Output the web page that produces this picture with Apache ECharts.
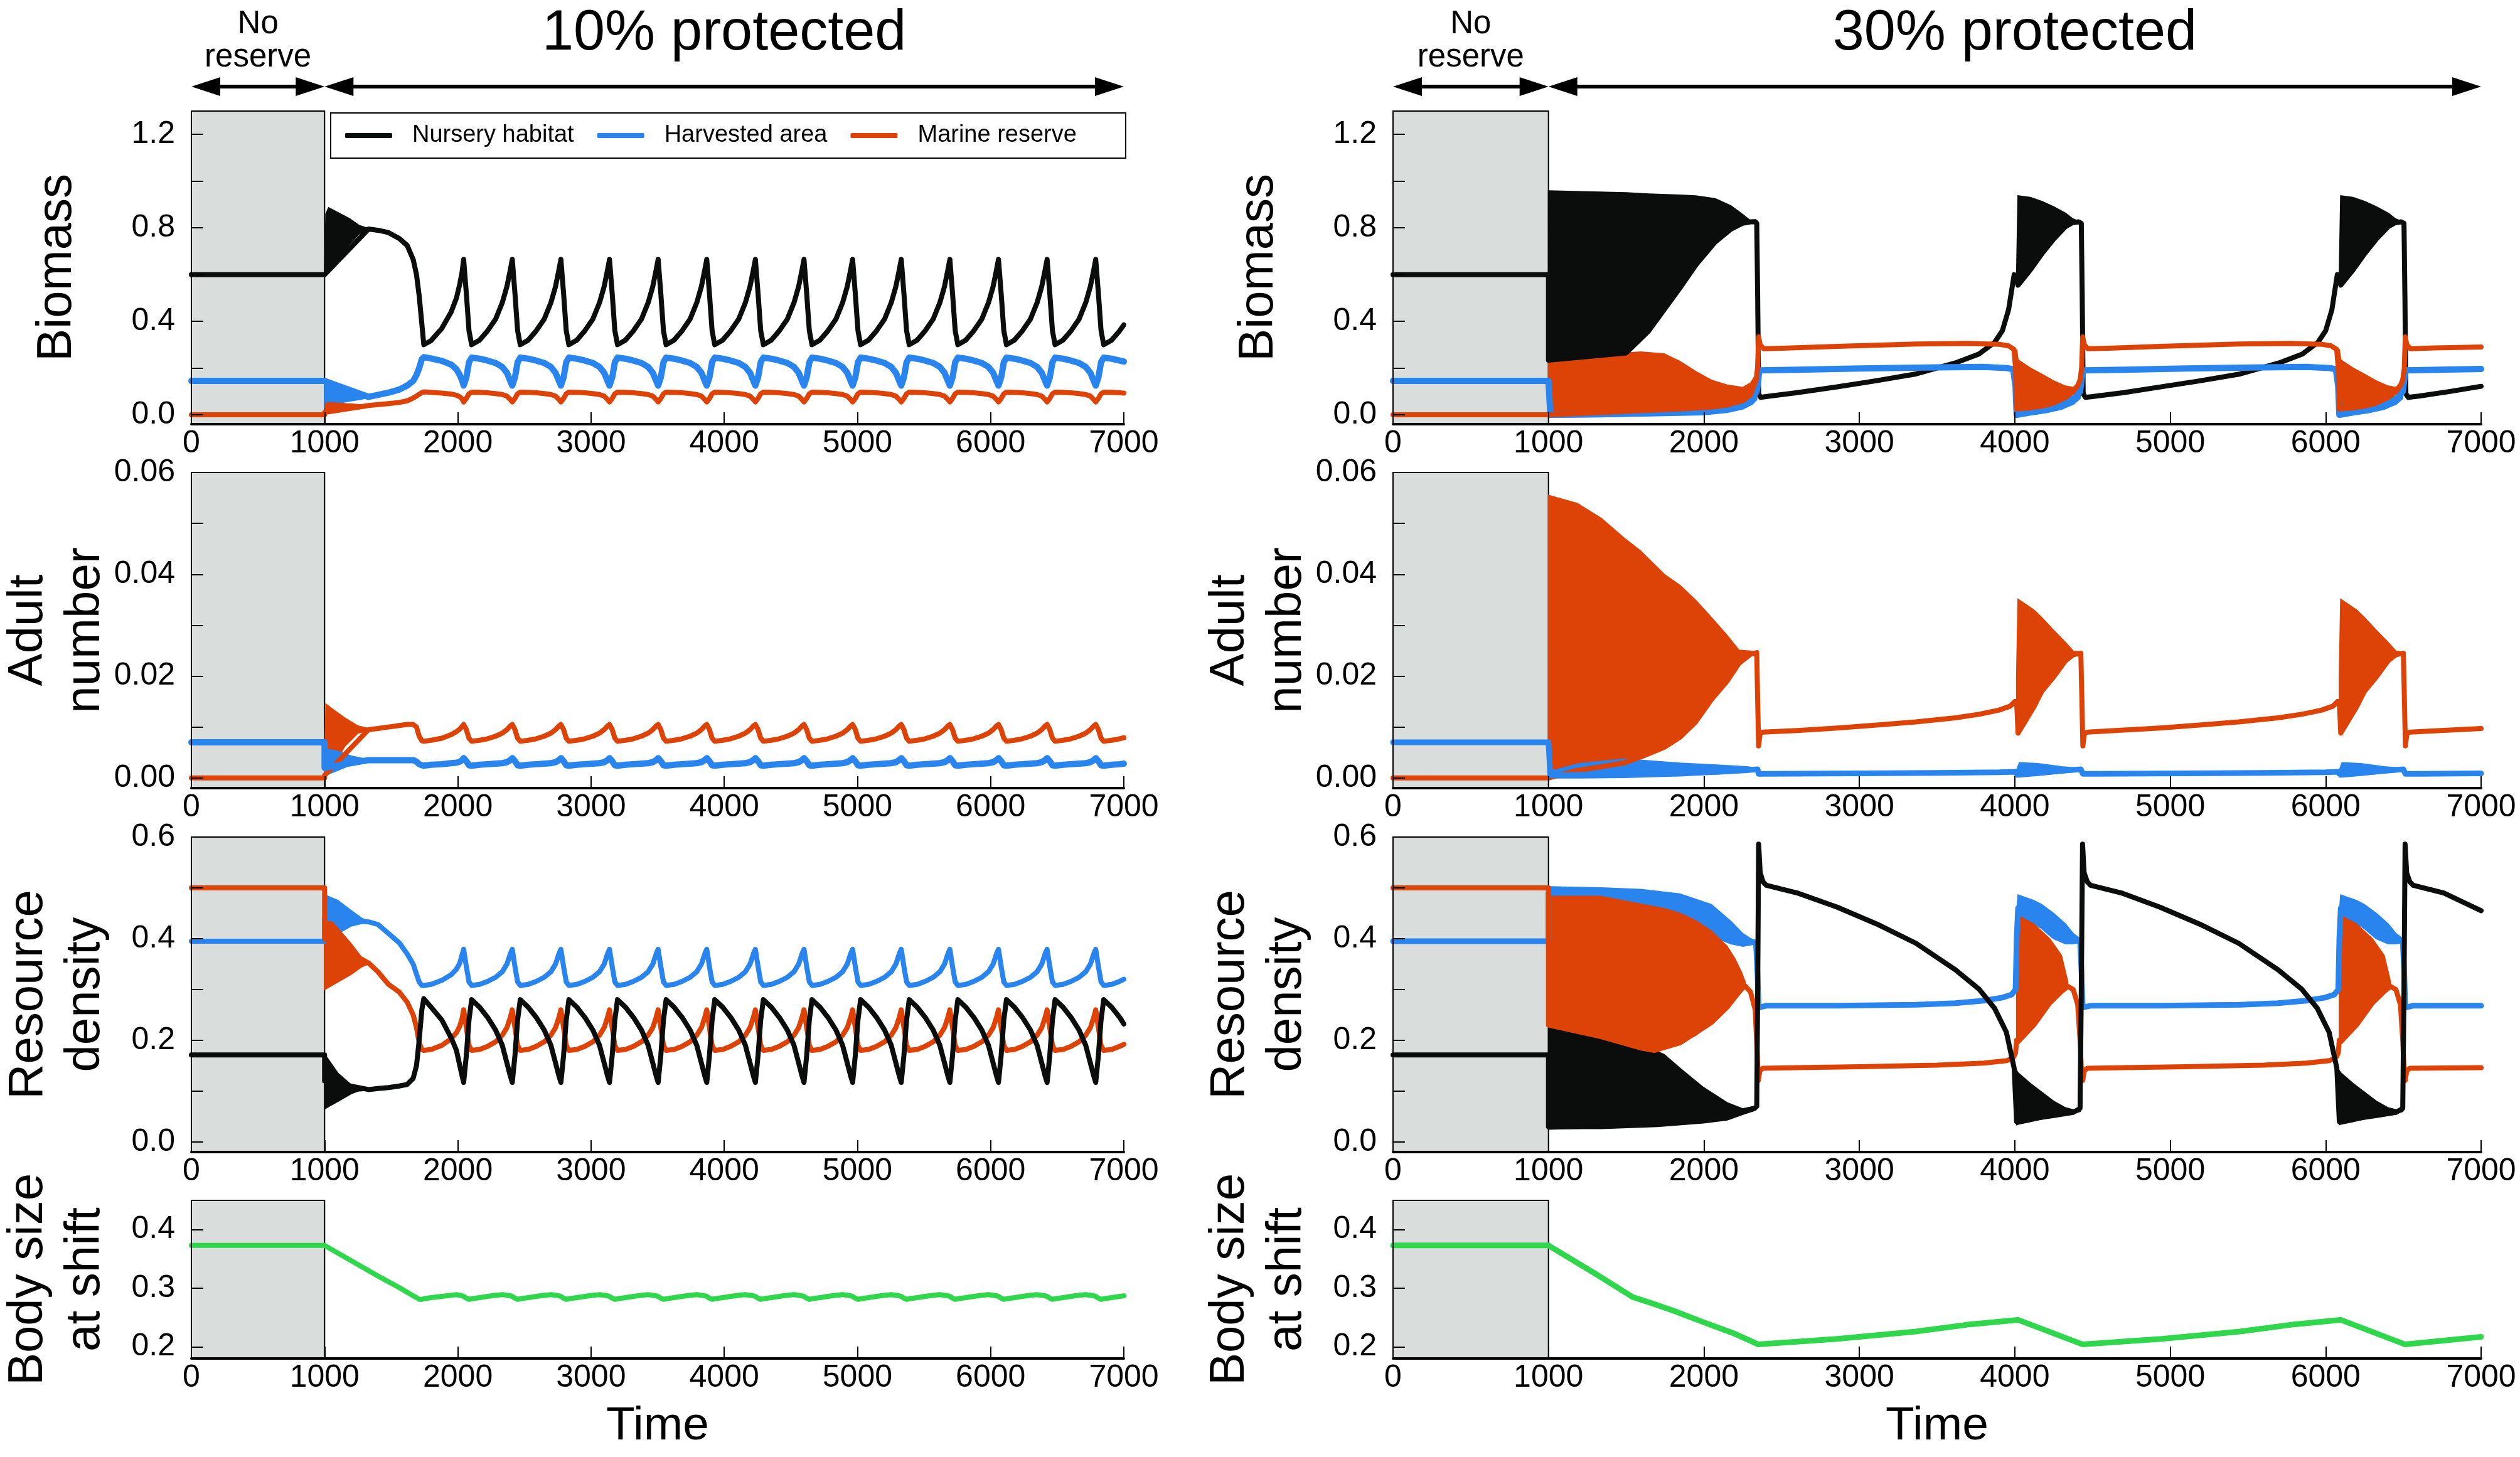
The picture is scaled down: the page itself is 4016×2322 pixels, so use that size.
<!DOCTYPE html>
<html><head><meta charset="utf-8">
<script src="https://cdn.jsdelivr.net/npm/echarts@6.0.0/dist/echarts.min.js"></script>
<style>html,body{margin:0;padding:0;background:#fff}#c{width:4016px;height:2322px}</style>
</head><body><div id="c"></div><script>
// ---------------- DATA ----------------
const legendNames = ['Nursery habitat', 'Harvested area', 'Marine reserve'];
const headerLabels = ['10% protected', '30% protected'];
const preLabel = 'No\nreserve';
const yTitles = ['Biomass', 'Adult\nnumber', 'Resource\ndensity', 'Body size\nat shift'];
const xTitle = 'Time';
const arrowSpans = [[0, 1000], [1000, 7000]];
const xTicks = {min: 0, max: 7000, interval: 1000};
const yTickSets = [
  {min: -0.04, max: 1.3, ticks: [0, 0.2, 0.4, 0.6, 0.8, 1.0, 1.2], labels: [0, 0.4, 0.8, 1.2], dec: 1},
  {min: -0.002, max: 0.06, ticks: [0, 0.01, 0.02, 0.03, 0.04, 0.05, 0.06], labels: [0, 0.02, 0.04, 0.06], dec: 2},
  {min: -0.02, max: 0.6, ticks: [0, 0.1, 0.2, 0.3, 0.4, 0.5, 0.6], labels: [0, 0.2, 0.4, 0.6], dec: 1},
  {min: 0.18, max: 0.45, ticks: [0.2, 0.3, 0.4], labels: [0.2, 0.3, 0.4], dec: 1}
];

// ---- 10% protected: shared time grid ----
const time10 = [
0,1000,1000,1330,1400,1480,1560,1620,1665,1690,1710,1730,1745,1800,1880,1950,1990,2015,2032,
2044,2064,2084,2104,2164,2224,2284,2334,2369,2394,
2409,2429,2449,2469,2529,2589,2649,2699,2734,2759,
2774,2794,2814,2834,2894,2954,3014,3064,3099,3124,
3139,3159,3179,3199,3259,3319,3379,3429,3464,3489,
3504,3524,3544,3564,3624,3684,3744,3794,3829,3854,
3869,3889,3909,3929,3989,4049,4109,4159,4194,4219,
4234,4254,4274,4294,4354,4414,4474,4524,4559,4584,
4599,4619,4639,4659,4719,4779,4839,4889,4924,4949,
4964,4984,5004,5024,5084,5144,5204,5254,5289,5314,
5329,5349,5369,5389,5449,5509,5569,5619,5654,5679,
5694,5714,5734,5754,5814,5874,5934,5984,6019,6044,
6059,6079,6099,6119,6179,6239,6299,6349,6384,6409,
6424,6444,6464,6484,6544,6604,6664,6714,6749,6774,
6789,6809,6829,6849,6909,6969,7000];

const bioNursery10 = [
0.6,0.6,0.6,0.795,0.79,0.78,0.755,0.725,0.665,0.60,0.51,0.39,0.30,0.318,0.37,0.44,0.50,0.56,0.61,
0.665,0.52,0.36,0.30,0.32,0.36,0.41,0.48,0.55,0.62,
0.665,0.52,0.36,0.30,0.32,0.36,0.41,0.48,0.55,0.62,
0.665,0.52,0.36,0.30,0.32,0.36,0.41,0.48,0.55,0.62,
0.665,0.52,0.36,0.30,0.32,0.36,0.41,0.48,0.55,0.62,
0.665,0.52,0.36,0.30,0.32,0.36,0.41,0.48,0.55,0.62,
0.665,0.52,0.36,0.30,0.32,0.36,0.41,0.48,0.55,0.62,
0.665,0.52,0.36,0.30,0.32,0.36,0.41,0.48,0.55,0.62,
0.665,0.52,0.36,0.30,0.32,0.36,0.41,0.48,0.55,0.62,
0.665,0.52,0.36,0.30,0.32,0.36,0.41,0.48,0.55,0.62,
0.665,0.52,0.36,0.30,0.32,0.36,0.41,0.48,0.55,0.62,
0.665,0.52,0.36,0.30,0.32,0.36,0.41,0.48,0.55,0.62,
0.665,0.52,0.36,0.30,0.32,0.36,0.41,0.48,0.55,0.62,
0.665,0.52,0.36,0.30,0.32,0.36,0.41,0.48,0.55,0.62,
0.665,0.52,0.36,0.30,0.32,0.36,0.385];
const bioHarvest10 = [
0.145,0.145,0.145,0.077,0.085,0.095,0.108,0.125,0.145,0.17,0.2,0.238,0.247,0.241,0.231,0.215,0.195,0.17,0.148,
0.125,0.16,0.225,0.245,0.24,0.232,0.222,0.205,0.18,0.145,
0.125,0.16,0.225,0.245,0.24,0.232,0.222,0.205,0.18,0.145,
0.125,0.16,0.225,0.245,0.24,0.232,0.222,0.205,0.18,0.145,
0.125,0.16,0.225,0.245,0.24,0.232,0.222,0.205,0.18,0.145,
0.125,0.16,0.225,0.245,0.24,0.232,0.222,0.205,0.18,0.145,
0.125,0.16,0.225,0.245,0.24,0.232,0.222,0.205,0.18,0.145,
0.125,0.16,0.225,0.245,0.24,0.232,0.222,0.205,0.18,0.145,
0.125,0.16,0.225,0.245,0.24,0.232,0.222,0.205,0.18,0.145,
0.125,0.16,0.225,0.245,0.24,0.232,0.222,0.205,0.18,0.145,
0.125,0.16,0.225,0.245,0.24,0.232,0.222,0.205,0.18,0.145,
0.125,0.16,0.225,0.245,0.24,0.232,0.222,0.205,0.18,0.145,
0.125,0.16,0.225,0.245,0.24,0.232,0.222,0.205,0.18,0.145,
0.125,0.16,0.225,0.245,0.24,0.232,0.222,0.205,0.18,0.145,
0.125,0.16,0.225,0.245,0.24,0.232,0.228];
const bioReserve10 = [
0,0,0.01,0.04,0.044,0.048,0.053,0.06,0.072,0.08,0.088,0.095,0.098,0.096,0.093,0.089,0.084,0.077,0.068,
0.055,0.07,0.09,0.097,0.096,0.094,0.091,0.087,0.08,0.066,
0.055,0.07,0.09,0.097,0.096,0.094,0.091,0.087,0.08,0.066,
0.055,0.07,0.09,0.097,0.096,0.094,0.091,0.087,0.08,0.066,
0.055,0.07,0.09,0.097,0.096,0.094,0.091,0.087,0.08,0.066,
0.055,0.07,0.09,0.097,0.096,0.094,0.091,0.087,0.08,0.066,
0.055,0.07,0.09,0.097,0.096,0.094,0.091,0.087,0.08,0.066,
0.055,0.07,0.09,0.097,0.096,0.094,0.091,0.087,0.08,0.066,
0.055,0.07,0.09,0.097,0.096,0.094,0.091,0.087,0.08,0.066,
0.055,0.07,0.09,0.097,0.096,0.094,0.091,0.087,0.08,0.066,
0.055,0.07,0.09,0.097,0.096,0.094,0.091,0.087,0.08,0.066,
0.055,0.07,0.09,0.097,0.096,0.094,0.091,0.087,0.08,0.066,
0.055,0.07,0.09,0.097,0.096,0.094,0.091,0.087,0.08,0.066,
0.055,0.07,0.09,0.097,0.096,0.094,0.091,0.087,0.08,0.066,
0.055,0.07,0.09,0.097,0.096,0.094,0.093];
const adultReserve10 = [
0,0,0.0005,0.0095,0.0097,0.01,0.0103,0.0105,0.0105,0.01,0.0082,0.0073,0.0072,0.0074,0.0078,0.0085,0.0091,0.0096,0.0101,
0.0105,0.0095,0.0078,0.0072,0.0074,0.0077,0.0082,0.0088,0.0095,0.0102,
0.0105,0.0095,0.0078,0.0072,0.0074,0.0077,0.0082,0.0088,0.0095,0.0102,
0.0105,0.0095,0.0078,0.0072,0.0074,0.0077,0.0082,0.0088,0.0095,0.0102,
0.0105,0.0095,0.0078,0.0072,0.0074,0.0077,0.0082,0.0088,0.0095,0.0102,
0.0105,0.0095,0.0078,0.0072,0.0074,0.0077,0.0082,0.0088,0.0095,0.0102,
0.0105,0.0095,0.0078,0.0072,0.0074,0.0077,0.0082,0.0088,0.0095,0.0102,
0.0105,0.0095,0.0078,0.0072,0.0074,0.0077,0.0082,0.0088,0.0095,0.0102,
0.0105,0.0095,0.0078,0.0072,0.0074,0.0077,0.0082,0.0088,0.0095,0.0102,
0.0105,0.0095,0.0078,0.0072,0.0074,0.0077,0.0082,0.0088,0.0095,0.0102,
0.0105,0.0095,0.0078,0.0072,0.0074,0.0077,0.0082,0.0088,0.0095,0.0102,
0.0105,0.0095,0.0078,0.0072,0.0074,0.0077,0.0082,0.0088,0.0095,0.0102,
0.0105,0.0095,0.0078,0.0072,0.0074,0.0077,0.0082,0.0088,0.0095,0.0102,
0.0105,0.0095,0.0078,0.0072,0.0074,0.0077,0.0082,0.0088,0.0095,0.0102,
0.0105,0.0095,0.0078,0.0072,0.0074,0.0077,0.0079];
const adultHarvest10 = [
0.007,0.007,0.002,0.0035,0.0035,0.0035,0.0035,0.0035,0.0035,0.0032,0.0027,0.0025,0.0024,0.0026,0.0027,0.0029,0.003,0.0032,0.0035,
0.0039,0.0033,0.0025,0.0024,0.0026,0.0027,0.0028,0.0029,0.0031,0.0035,
0.0039,0.0033,0.0025,0.0024,0.0026,0.0027,0.0028,0.0029,0.0031,0.0035,
0.0039,0.0033,0.0025,0.0024,0.0026,0.0027,0.0028,0.0029,0.0031,0.0035,
0.0039,0.0033,0.0025,0.0024,0.0026,0.0027,0.0028,0.0029,0.0031,0.0035,
0.0039,0.0033,0.0025,0.0024,0.0026,0.0027,0.0028,0.0029,0.0031,0.0035,
0.0039,0.0033,0.0025,0.0024,0.0026,0.0027,0.0028,0.0029,0.0031,0.0035,
0.0039,0.0033,0.0025,0.0024,0.0026,0.0027,0.0028,0.0029,0.0031,0.0035,
0.0039,0.0033,0.0025,0.0024,0.0026,0.0027,0.0028,0.0029,0.0031,0.0035,
0.0039,0.0033,0.0025,0.0024,0.0026,0.0027,0.0028,0.0029,0.0031,0.0035,
0.0039,0.0033,0.0025,0.0024,0.0026,0.0027,0.0028,0.0029,0.0031,0.0035,
0.0039,0.0033,0.0025,0.0024,0.0026,0.0027,0.0028,0.0029,0.0031,0.0035,
0.0039,0.0033,0.0025,0.0024,0.0026,0.0027,0.0028,0.0029,0.0031,0.0035,
0.0039,0.0033,0.0025,0.0024,0.0026,0.0027,0.0028,0.0029,0.0031,0.0035,
0.0039,0.0033,0.0025,0.0024,0.0026,0.0027,0.0028];
const resHarvest10 = [
0.395,0.395,0.44,0.433,0.428,0.41,0.392,0.37,0.35,0.33,0.315,0.308,0.308,0.31,0.318,0.329,0.34,0.352,0.368,
0.379,0.345,0.315,0.308,0.31,0.316,0.324,0.335,0.35,0.37,
0.379,0.345,0.315,0.308,0.31,0.316,0.324,0.335,0.35,0.37,
0.379,0.345,0.315,0.308,0.31,0.316,0.324,0.335,0.35,0.37,
0.379,0.345,0.315,0.308,0.31,0.316,0.324,0.335,0.35,0.37,
0.379,0.345,0.315,0.308,0.31,0.316,0.324,0.335,0.35,0.37,
0.379,0.345,0.315,0.308,0.31,0.316,0.324,0.335,0.35,0.37,
0.379,0.345,0.315,0.308,0.31,0.316,0.324,0.335,0.35,0.37,
0.379,0.345,0.315,0.308,0.31,0.316,0.324,0.335,0.35,0.37,
0.379,0.345,0.315,0.308,0.31,0.316,0.324,0.335,0.35,0.37,
0.379,0.345,0.315,0.308,0.31,0.316,0.324,0.335,0.35,0.37,
0.379,0.345,0.315,0.308,0.31,0.316,0.324,0.335,0.35,0.37,
0.379,0.345,0.315,0.308,0.31,0.316,0.324,0.335,0.35,0.37,
0.379,0.345,0.315,0.308,0.31,0.316,0.324,0.335,0.35,0.37,
0.379,0.345,0.315,0.308,0.31,0.316,0.32];
const resReserve10 = [
0.5,0.5,0.40,0.352,0.335,0.31,0.295,0.275,0.25,0.225,0.195,0.182,0.18,0.182,0.19,0.203,0.215,0.228,0.243,
0.26,0.225,0.19,0.18,0.182,0.188,0.197,0.21,0.225,0.245,
0.26,0.225,0.19,0.18,0.182,0.188,0.197,0.21,0.225,0.245,
0.26,0.225,0.19,0.18,0.182,0.188,0.197,0.21,0.225,0.245,
0.26,0.225,0.19,0.18,0.182,0.188,0.197,0.21,0.225,0.245,
0.26,0.225,0.19,0.18,0.182,0.188,0.197,0.21,0.225,0.245,
0.26,0.225,0.19,0.18,0.182,0.188,0.197,0.21,0.225,0.245,
0.26,0.225,0.19,0.18,0.182,0.188,0.197,0.21,0.225,0.245,
0.26,0.225,0.19,0.18,0.182,0.188,0.197,0.21,0.225,0.245,
0.26,0.225,0.19,0.18,0.182,0.188,0.197,0.21,0.225,0.245,
0.26,0.225,0.19,0.18,0.182,0.188,0.197,0.21,0.225,0.245,
0.26,0.225,0.19,0.18,0.182,0.188,0.197,0.21,0.225,0.245,
0.26,0.225,0.19,0.18,0.182,0.188,0.197,0.21,0.225,0.245,
0.26,0.225,0.19,0.18,0.182,0.188,0.197,0.21,0.225,0.245,
0.26,0.225,0.19,0.18,0.182,0.188,0.192];
const resNursery10 = [
0.171,0.171,0.12,0.103,0.105,0.107,0.11,0.113,0.125,0.15,0.2,0.26,0.282,0.265,0.24,0.205,0.18,0.15,0.13,
0.117,0.17,0.24,0.28,0.265,0.245,0.22,0.19,0.155,0.13,
0.117,0.17,0.24,0.28,0.265,0.245,0.22,0.19,0.155,0.13,
0.117,0.17,0.24,0.28,0.265,0.245,0.22,0.19,0.155,0.13,
0.117,0.17,0.24,0.28,0.265,0.245,0.22,0.19,0.155,0.13,
0.117,0.17,0.24,0.28,0.265,0.245,0.22,0.19,0.155,0.13,
0.117,0.17,0.24,0.28,0.265,0.245,0.22,0.19,0.155,0.13,
0.117,0.17,0.24,0.28,0.265,0.245,0.22,0.19,0.155,0.13,
0.117,0.17,0.24,0.28,0.265,0.245,0.22,0.19,0.155,0.13,
0.117,0.17,0.24,0.28,0.265,0.245,0.22,0.19,0.155,0.13,
0.117,0.17,0.24,0.28,0.265,0.245,0.22,0.19,0.155,0.13,
0.117,0.17,0.24,0.28,0.265,0.245,0.22,0.19,0.155,0.13,
0.117,0.17,0.24,0.28,0.265,0.245,0.22,0.19,0.155,0.13,
0.117,0.17,0.24,0.28,0.265,0.245,0.22,0.19,0.155,0.13,
0.117,0.17,0.24,0.28,0.265,0.245,0.232];
const body10 = [
0.373,0.373,0.373,0.330,0.321,0.311,0.301,0.293,0.287,0.284,0.281,0.281,0.282,0.284,0.286,0.288,0.289,0.288,0.287,
0.286,0.283,0.281,0.282,0.284,0.286,0.288,0.289,0.288,0.287,
0.286,0.283,0.281,0.282,0.284,0.286,0.288,0.289,0.288,0.287,
0.286,0.283,0.281,0.282,0.284,0.286,0.288,0.289,0.288,0.287,
0.286,0.283,0.281,0.282,0.284,0.286,0.288,0.289,0.288,0.287,
0.286,0.283,0.281,0.282,0.284,0.286,0.288,0.289,0.288,0.287,
0.286,0.283,0.281,0.282,0.284,0.286,0.288,0.289,0.288,0.287,
0.286,0.283,0.281,0.282,0.284,0.286,0.288,0.289,0.288,0.287,
0.286,0.283,0.281,0.282,0.284,0.286,0.288,0.289,0.288,0.287,
0.286,0.283,0.281,0.282,0.284,0.286,0.288,0.289,0.288,0.287,
0.286,0.283,0.281,0.282,0.284,0.286,0.288,0.289,0.288,0.287,
0.286,0.283,0.281,0.282,0.284,0.286,0.288,0.289,0.288,0.287,
0.286,0.283,0.281,0.282,0.284,0.286,0.288,0.289,0.288,0.287,
0.286,0.283,0.281,0.282,0.284,0.286,0.288,0.289,0.288,0.287,
0.286,0.283,0.281,0.282,0.284,0.286,0.287];

// high-frequency oscillation envelopes [time, low, high] (10%)
const bandBioNursery10 = [[1000,0.60,0.60],[1010,0.61,0.86],[1030,0.625,0.886],[1100,0.67,0.865],[1187,0.73,0.839],[1260,0.775,0.81],[1330,0.792,0.797]];
const bandBioHarvest10 = [[1000,0.03,0.145],[1050,0.04,0.14],[1150,0.055,0.11],[1250,0.065,0.085],[1330,0.073,0.077]];
const bandBioReserve10 = [[1000,0,0],[1010,0.005,0.05],[1050,0.01,0.052],[1150,0.02,0.048],[1250,0.032,0.044],[1330,0.039,0.041]];
const bandAdultReserve10 = [[1000,0,0],[1010,0.0005,0.0145],[1060,0.002,0.0135],[1150,0.0062,0.0118],[1250,0.0088,0.0102],[1330,0.0093,0.0097]];
const bandAdultHarvest10 = [[1000,0.0005,0.002],[1030,0.0008,0.0056],[1100,0.0015,0.0052],[1200,0.0026,0.0043],[1330,0.0033,0.0036]];
const bandResHarvest10 = [[1000,0.395,0.48],[1010,0.40,0.485],[1100,0.41,0.475],[1200,0.425,0.455],[1280,0.43,0.44],[1330,0.432,0.434]];
const bandResReserve10 = [[1000,0.30,0.45],[1100,0.315,0.42],[1200,0.33,0.39],[1280,0.345,0.362],[1330,0.35,0.355]];
const bandResNursery10 = [[1000,0.065,0.171],[1020,0.068,0.165],[1100,0.08,0.135],[1200,0.095,0.112],[1250,0.1,0.106],[1330,0.102,0.104]];

// ---- 30% protected: [time, value] ----
const bioNursery30 = [[0,0.6],[1000,0.6],[1000,0.234],[1500,0.265],[1643,0.358],[1846,0.543],[1947,0.64],[2073,0.74],[2174,0.795],[2250,0.82],[2300,0.826],[2330,0.827],[2340,0.82],[2346,0.5],[2352,0.09],[2365,0.075],[2400,0.078],[2600,0.095],[2858,0.12],[3100,0.145],[3364,0.175],[3617,0.222],[3769,0.26],[3870,0.31],[3920,0.36],[3960,0.45],[3996,0.6],[4012,0.58],[4021,0.555],[4100,0.62],[4175,0.69],[4250,0.752],[4326,0.805],[4370,0.822],[4410,0.826],[4428,0.82],[4434,0.5],[4440,0.09],[4455,0.075],[4500,0.078],[4700,0.095],[4944,0.12],[5186,0.145],[5450,0.175],[5700,0.222],[5850,0.26],[5950,0.31],[6000,0.36],[6040,0.45],[6075,0.6],[6088,0.58],[6097,0.555],[6176,0.62],[6251,0.69],[6326,0.752],[6402,0.805],[6446,0.822],[6486,0.826],[6504,0.82],[6510,0.5],[6516,0.09],[6531,0.075],[6600,0.08],[6800,0.1],[7000,0.122]];
const bioHarvest30 = [[0,0.145],[1000,0.145],[1012,0.0],[1339,0.002],[1700,0.008],[1997,0.015],[2149,0.027],[2250,0.045],[2310,0.07],[2340,0.1],[2350,0.15],[2356,0.19],[2600,0.193],[3000,0.198],[3500,0.203],[3800,0.205],[3950,0.2],[3990,0.195],[4005,0.12],[4012,0.0],[4100,0.01],[4200,0.02],[4300,0.035],[4376,0.06],[4420,0.1],[4430,0.15],[4437,0.19],[4700,0.193],[5100,0.198],[5600,0.203],[5876,0.205],[6026,0.2],[6066,0.195],[6081,0.12],[6088,0.0],[6176,0.01],[6276,0.02],[6376,0.035],[6452,0.06],[6496,0.1],[6506,0.15],[6512,0.19],[7000,0.196]];
const bioReserve30 = [[0,0],[1000,0],[1339,0.01],[1592,0.018],[1846,0.025],[2048,0.033],[2149,0.042],[2250,0.06],[2300,0.086],[2336,0.15],[2345,0.2],[2352,0.333],[2362,0.30],[2385,0.283],[2500,0.285],[2858,0.293],[3364,0.303],[3700,0.306],[3900,0.302],[3960,0.295],[3995,0.28],[4005,0.2],[4012,0.025],[4100,0.03],[4175,0.037],[4250,0.05],[4326,0.074],[4376,0.099],[4405,0.125],[4420,0.15],[4430,0.2],[4437,0.333],[4447,0.30],[4470,0.283],[4600,0.285],[4934,0.293],[5440,0.303],[5776,0.306],[5976,0.302],[6036,0.295],[6071,0.28],[6081,0.2],[6088,0.025],[6176,0.03],[6251,0.037],[6326,0.05],[6402,0.074],[6452,0.099],[6481,0.125],[6496,0.15],[6506,0.2],[6512,0.333],[6522,0.30],[6545,0.283],[6700,0.286],[7000,0.29]];
const bandBioNursery30 = [
 [[1000,0.234,0.958],[1500,0.265,0.95],[1643,0.358,0.945],[1846,0.543,0.94],[1947,0.64,0.937],[2073,0.74,0.925],[2174,0.795,0.894],[2250,0.82,0.857],[2300,0.826,0.83],[2330,0.827,0.828]],
 [[4012,0.55,0.6],[4021,0.555,0.937],[4100,0.62,0.93],[4175,0.69,0.913],[4250,0.752,0.89],[4326,0.805,0.863],[4370,0.822,0.84],[4410,0.826,0.828]],
 [[6088,0.55,0.6],[6097,0.555,0.937],[6176,0.62,0.93],[6251,0.69,0.913],[6326,0.752,0.89],[6402,0.805,0.863],[6446,0.822,0.84],[6486,0.826,0.828]]];
const bandBioHarvest30 = [
 [[1000,-0.01,0.01],[1339,-0.008,0.012],[1700,-0.004,0.02],[1997,0.0,0.031],[2149,0.01,0.045],[2250,0.025,0.068],[2310,0.045,0.1],[2340,0.065,0.135]],
 [[4012,-0.005,0.05],[4100,0.0,0.05],[4200,0.01,0.055],[4300,0.025,0.065],[4376,0.045,0.08],[4420,0.07,0.12]],
 [[6088,-0.005,0.05],[6176,0.0,0.05],[6276,0.01,0.055],[6376,0.025,0.065],[6452,0.045,0.08],[6496,0.07,0.12]]];
const bandBioReserve30 = [
 [[1000,0.0,0.234],[1339,0.01,0.257],[1592,0.018,0.269],[1744,0.022,0.261],[1846,0.025,0.228],[1947,0.029,0.185],[2048,0.033,0.148],[2149,0.042,0.127],[2250,0.06,0.117],[2300,0.086,0.136],[2336,0.14,0.173]],
 [[4012,0.02,0.28],[4021,0.025,0.235],[4100,0.03,0.2],[4175,0.037,0.173],[4250,0.05,0.145],[4326,0.074,0.123],[4376,0.099,0.117],[4405,0.12,0.135]],
 [[6088,0.02,0.28],[6097,0.025,0.235],[6176,0.03,0.2],[6251,0.037,0.173],[6326,0.05,0.145],[6402,0.074,0.123],[6452,0.099,0.117],[6481,0.12,0.135]]];

const adultReserve30 = [[0,0],[1000,0],[1186,0.0015],[1339,0.0022],[1491,0.003],[1592,0.0041],[1744,0.006],[1846,0.008],[1947,0.011],[2048,0.0154],[2149,0.019],[2225,0.0225],[2300,0.0243],[2340,0.0246],[2346,0.015],[2352,0.0063],[2362,0.0088],[2380,0.009],[2600,0.0093],[2858,0.0098],[3111,0.0104],[3364,0.011],[3617,0.0118],[3769,0.0125],[3896,0.0133],[3971,0.0141],[4000,0.015],[4012,0.015],[4021,0.0088],[4122,0.0139],[4173,0.017],[4249,0.0198],[4326,0.023],[4376,0.0242],[4425,0.0245],[4432,0.015],[4438,0.0063],[4448,0.0088],[4470,0.009],[4700,0.0094],[4934,0.0098],[5187,0.0104],[5440,0.011],[5693,0.0118],[5845,0.0125],[5972,0.0133],[6047,0.0141],[6076,0.015],[6088,0.015],[6097,0.0088],[6198,0.0139],[6249,0.017],[6325,0.0198],[6402,0.023],[6452,0.0242],[6500,0.0245],[6507,0.015],[6513,0.0063],[6523,0.0088],[6545,0.009],[6800,0.0094],[7000,0.0097]];
const adultHarvest30 = [[0,0.007],[1000,0.007],[1012,0.0005],[1491,0.0008],[1846,0.001],[2100,0.0012],[2276,0.0015],[2345,0.0017],[2352,0.0008],[2400,0.0008],[3000,0.0009],[3500,0.001],[3900,0.0011],[4005,0.0012],[4012,0.0008],[4150,0.001],[4300,0.0014],[4425,0.0017],[4438,0.0008],[4500,0.0008],[5100,0.0009],[5600,0.001],[6000,0.0011],[6081,0.0012],[6088,0.0008],[6226,0.001],[6376,0.0014],[6500,0.0017],[6513,0.0008],[6600,0.0008],[7000,0.0009]];
const bandAdultReserve30 = [
 [[1000,0.001,0.0555],[1186,0.0015,0.0539],[1339,0.0022,0.051],[1491,0.003,0.047],[1592,0.0041,0.0446],[1744,0.006,0.040],[1846,0.008,0.0378],[1947,0.011,0.0349],[2048,0.0154,0.0315],[2149,0.019,0.028],[2225,0.0225,0.0251],[2300,0.0242,0.0249],[2340,0.0244,0.0246]],
 [[4012,0.014,0.02],[4021,0.0088,0.0351],[4122,0.0139,0.033],[4173,0.017,0.0315],[4249,0.0198,0.029],[4326,0.023,0.0266],[4376,0.0242,0.0249],[4420,0.0244,0.0247]],
 [[6088,0.014,0.02],[6097,0.0088,0.0351],[6198,0.0139,0.033],[6249,0.017,0.0315],[6325,0.0198,0.029],[6402,0.023,0.0266],[6452,0.0242,0.0249],[6496,0.0244,0.0247]]];
const bandAdultHarvest30 = [
 [[1000,0.0,0.0012],[1200,0.0,0.0028],[1491,0.0001,0.0037],[1846,0.0004,0.0029],[2100,0.0008,0.0025],[2276,0.0012,0.0022],[2345,0.0015,0.0019]],
 [[4012,0.0002,0.0015],[4030,0.0002,0.003],[4150,0.0005,0.0028],[4300,0.001,0.0022],[4420,0.0014,0.0019]],
 [[6088,0.0002,0.0015],[6106,0.0002,0.003],[6226,0.0005,0.0028],[6376,0.001,0.0022],[6496,0.0014,0.0019]]];

const resNursery30 = [[0,0.171],[1000,0.171],[1000,0.03],[1339,0.03],[1700,0.034],[1997,0.041],[2149,0.047],[2250,0.058],[2326,0.066],[2340,0.07],[2346,0.3],[2352,0.586],[2362,0.53],[2380,0.512],[2402,0.505],[2600,0.49],[2858,0.462],[3111,0.429],[3364,0.391],[3617,0.339],[3769,0.301],[3870,0.263],[3946,0.216],[3996,0.145],[4012,0.04],[4100,0.045],[4250,0.052],[4376,0.058],[4420,0.066],[4428,0.3],[4436,0.586],[4446,0.53],[4466,0.512],[4488,0.505],[4686,0.49],[4934,0.462],[5187,0.429],[5440,0.391],[5693,0.339],[5845,0.301],[5946,0.263],[6022,0.216],[6072,0.145],[6088,0.04],[6176,0.045],[6326,0.052],[6452,0.058],[6496,0.066],[6504,0.3],[6511,0.586],[6521,0.53],[6541,0.512],[6563,0.505],[6760,0.49],[7000,0.455]];
const resReserve30 = [[0,0.5],[1000,0.5],[1000,0.23],[1339,0.207],[1592,0.185],[1680,0.18],[1846,0.195],[2048,0.235],[2149,0.265],[2200,0.285],[2240,0.3],[2265,0.307],[2300,0.295],[2330,0.26],[2342,0.18],[2350,0.121],[2360,0.14],[2380,0.145],[2600,0.146],[3000,0.148],[3500,0.151],[3800,0.155],[3950,0.16],[3990,0.166],[4005,0.175],[4012,0.2],[4021,0.197],[4122,0.23],[4224,0.273],[4300,0.296],[4341,0.306],[4376,0.3],[4405,0.27],[4420,0.2],[4430,0.13],[4437,0.121],[4447,0.14],[4467,0.145],[4700,0.146],[5100,0.148],[5600,0.151],[5876,0.155],[6026,0.16],[6066,0.166],[6081,0.175],[6088,0.2],[6097,0.197],[6198,0.23],[6300,0.273],[6376,0.296],[6417,0.306],[6452,0.3],[6481,0.27],[6496,0.2],[6506,0.13],[6512,0.121],[6522,0.14],[6542,0.145],[7000,0.146]];
const resHarvest30 = [[0,0.395],[1000,0.395],[1000,0.49],[1339,0.49],[1846,0.46],[2048,0.44],[2174,0.41],[2250,0.398],[2300,0.395],[2335,0.392],[2345,0.33],[2352,0.265],[2362,0.265],[2400,0.268],[2858,0.268],[3364,0.27],[3617,0.273],[3800,0.278],[3920,0.284],[3980,0.29],[4005,0.3],[4012,0.4],[4021,0.46],[4173,0.44],[4300,0.41],[4376,0.4],[4420,0.395],[4430,0.33],[4437,0.265],[4447,0.265],[4485,0.268],[4944,0.268],[5450,0.27],[5693,0.273],[5876,0.278],[5996,0.284],[6056,0.29],[6081,0.3],[6088,0.4],[6097,0.46],[6249,0.44],[6376,0.41],[6452,0.4],[6496,0.395],[6506,0.33],[6512,0.265],[6522,0.265],[6560,0.268],[7000,0.268]];
const bandResNursery30 = [
 [[1000,0.025,0.23],[1339,0.028,0.207],[1592,0.03,0.185],[1680,0.032,0.18],[1744,0.034,0.172],[1846,0.036,0.145],[1997,0.041,0.107],[2149,0.047,0.077],[2250,0.055,0.065],[2326,0.062,0.07],[2340,0.066,0.068]],
 [[4012,0.034,0.14],[4021,0.035,0.136],[4100,0.04,0.115],[4173,0.045,0.098],[4250,0.05,0.08],[4326,0.053,0.067],[4376,0.056,0.063],[4420,0.06,0.066]],
 [[6088,0.034,0.14],[6097,0.035,0.136],[6176,0.04,0.115],[6249,0.045,0.098],[6326,0.05,0.08],[6402,0.053,0.067],[6452,0.056,0.063],[6496,0.06,0.066]]];
const bandResReserve30 = [
 [[1000,0.23,0.491],[1339,0.207,0.485],[1592,0.185,0.471],[1680,0.18,0.465],[1846,0.195,0.45],[1950,0.21,0.435],[2048,0.235,0.415],[2149,0.265,0.385],[2200,0.285,0.36],[2240,0.3,0.335],[2265,0.306,0.315]],
 [[4012,0.18,0.3],[4021,0.197,0.445],[4122,0.23,0.429],[4224,0.273,0.40],[4300,0.296,0.367],[4341,0.304,0.315]],
 [[6088,0.18,0.3],[6097,0.197,0.445],[6198,0.23,0.429],[6300,0.273,0.40],[6376,0.296,0.367],[6417,0.304,0.315]]];
const bandResHarvest30 = [
 [[1000,0.45,0.502],[1339,0.45,0.5],[1592,0.445,0.497],[1846,0.43,0.488],[2048,0.405,0.467],[2174,0.39,0.434],[2250,0.385,0.41],[2300,0.388,0.40],[2335,0.39,0.395]],
 [[4012,0.3,0.45],[4021,0.44,0.486],[4122,0.43,0.475],[4173,0.42,0.467],[4249,0.40,0.45],[4326,0.39,0.429],[4376,0.39,0.41],[4420,0.392,0.40]],
 [[6088,0.3,0.45],[6097,0.44,0.486],[6198,0.43,0.475],[6249,0.42,0.467],[6325,0.40,0.45],[6402,0.39,0.429],[6452,0.39,0.41],[6496,0.392,0.40]]];

const body30 = [[0,0.373],[1000,0.373],[1300,0.325],[1541,0.285],[1668,0.274],[1800,0.262],[1997,0.242],[2200,0.222],[2351,0.204],[2858,0.2135],[3364,0.226],[3718,0.2385],[4021,0.246],[4437,0.204],[4944,0.2135],[5450,0.226],[5804,0.2385],[6097,0.246],[6512,0.204],[7000,0.217]];

// ---------------- STYLE / LAYOUT ----------------
const C = {black: '#0b0c0c', blue: '#2985ed', orange: '#dd4307', green: '#30d64b', gray: '#d9dddc'};
const FONT = '"Liberation Sans", Arial, Helvetica, sans-serif';
const COLS = [{left: 305, width: 1486}, {left: 2220, width: 1734}];
const ROWS = [{top: 177, height: 499}, {top: 753, height: 503}, {top: 1334, height: 502}, {top: 1913, height: 252}];
const HEADER = {top: 100, height: 76};

const zip = (ts, vs) => ts.map((t, i) => [t, vs[i]]);

const grids = [], xAxes = [], yAxes = [], series = [];

function lineS(name, data, color, width, g) {
  return {type: 'line', name, data, xAxisIndex: g, yAxisIndex: g, symbol: 'none', showSymbol: false,
    animation: false, silent: true, z: 2, clip: true,
    lineStyle: {color, width, cap: 'round', join: 'round'}, itemStyle: {color}};
}
function bandS(rows, color, g) {
  return {type: 'custom', name: 'band', data: rows, xAxisIndex: g, yAxisIndex: g, clip: true,
    animation: false, silent: true, z: 2, encode: {x: 0, y: [1, 2]},
    renderItem: (params, api) => {
      if (params.dataIndex !== 0) return null;
      const up = rows.map(r => api.coord([r[0], r[2]]));
      const lo = rows.slice().reverse().map(r => api.coord([r[0], r[1]]));
      return {type: 'polygon', shape: {points: up.concat(lo)}, style: {fill: color, stroke: color, lineWidth: 2}};
    }};
}
function bandsS(segs, color, g) { return segs.map(s => bandS(s, color, g)); }

// panels
COLS.forEach((col, c) => {
  ROWS.forEach((row, r) => {
    const g = grids.length;
    grids.push({left: col.left, top: row.top, width: col.width, height: row.height, outerBoundsMode: 'none'});
    xAxes.push({gridIndex: g, type: 'value', min: xTicks.min, max: xTicks.max, interval: xTicks.interval, z: 10,
      axisLine: {show: true, onZero: false, lineStyle: {color: '#000', width: 4}},
      axisTick: {show: true, inside: true, length: 19, lineStyle: {color: '#000', width: 2}},
      axisLabel: {show: true, color: '#000', fontSize: 50, fontFamily: FONT, margin: 6, formatter: v => String(v)},
      splitLine: {show: false}});
    const Y = yTickSets[r];
    yAxes.push({gridIndex: g, type: 'value', min: Y.min, max: Y.max, z: 10,
      axisLine: {show: true, onZero: false, lineStyle: {color: '#000', width: 2}},
      axisTick: {show: true, inside: true, length: 19, customValues: Y.ticks, lineStyle: {color: '#000', width: 2}},
      axisLabel: {show: true, customValues: Y.labels, color: '#000', fontSize: 50, fontFamily: FONT, margin: 26,
        formatter: v => Number(v).toFixed(Y.dec)},
      splitLine: {show: false}});
    // gray "no reserve" period
    series.push({type: 'line', name: 'pre', data: [], xAxisIndex: g, yAxisIndex: g, z: 1, silent: true, animation: false,
      markArea: {silent: true, z: 1, itemStyle: {color: C.gray, borderColor: '#000', borderWidth: 2},
        data: [[{xAxis: arrowSpans[0][0]}, {xAxis: arrowSpans[0][1]}]]}});
  });
});
const G = (c, r) => c * 4 + r;

// ---- 10% column ----
series.push(bandS(bandBioNursery10, C.black, G(0,0)));
series.push(lineS(legendNames[0], zip(time10, bioNursery10), C.black, 8, G(0,0)));
series.push(bandS(bandBioHarvest10, C.blue, G(0,0)));
series.push(lineS(legendNames[1], zip(time10, bioHarvest10), C.blue, 10, G(0,0)));
series.push(bandS(bandBioReserve10, C.orange, G(0,0)));
series.push(lineS(legendNames[2], zip(time10, bioReserve10), C.orange, 8, G(0,0)));

series.push(bandS(bandAdultReserve10, C.orange, G(0,1)));
series.push(lineS(legendNames[2], zip(time10, adultReserve10), C.orange, 8, G(0,1)));
series.push(bandS(bandAdultHarvest10, C.blue, G(0,1)));
series.push(lineS(legendNames[1], zip(time10, adultHarvest10), C.blue, 10, G(0,1)));

series.push(bandS(bandResHarvest10, C.blue, G(0,2)));
series.push(lineS(legendNames[1], zip(time10, resHarvest10), C.blue, 8, G(0,2)));
series.push(bandS(bandResReserve10, C.orange, G(0,2)));
series.push(lineS(legendNames[2], zip(time10, resReserve10), C.orange, 8, G(0,2)));
series.push(bandS(bandResNursery10, C.black, G(0,2)));
series.push(lineS(legendNames[0], zip(time10, resNursery10), C.black, 8, G(0,2)));

series.push(lineS('Body size', zip(time10, body10), C.green, 8, G(0,3)));

// ---- 30% column ----
series.push(...bandsS(bandBioNursery30, C.black, G(1,0)));
series.push(lineS(legendNames[0], bioNursery30, C.black, 8, G(1,0)));
series.push(...bandsS(bandBioHarvest30, C.blue, G(1,0)));
series.push(lineS(legendNames[1], bioHarvest30, C.blue, 10, G(1,0)));
series.push(...bandsS(bandBioReserve30, C.orange, G(1,0)));
series.push(lineS(legendNames[2], bioReserve30, C.orange, 8, G(1,0)));

series.push(...bandsS(bandAdultReserve30, C.orange, G(1,1)));
series.push(lineS(legendNames[2], adultReserve30, C.orange, 8, G(1,1)));
series.push(...bandsS(bandAdultHarvest30, C.blue, G(1,1)));
series.push(lineS(legendNames[1], adultHarvest30, C.blue, 9, G(1,1)));

series.push(...bandsS(bandResHarvest30, C.blue, G(1,2)));
series.push(lineS(legendNames[1], resHarvest30, C.blue, 9, G(1,2)));
series.push(...bandsS(bandResReserve30, C.orange, G(1,2)));
series.push(lineS(legendNames[2], resReserve30, C.orange, 8, G(1,2)));
series.push(...bandsS(bandResNursery30, C.black, G(1,2)));
series.push(lineS(legendNames[0], resNursery30, C.black, 8, G(1,2)));

series.push(lineS('Body size', body30, C.green, 9, G(1,3)));

// ---- header arrows ----
COLS.forEach((col, c) => {
  const g = grids.length;
  grids.push({left: col.left, top: HEADER.top, width: col.width, height: HEADER.height, outerBoundsMode: 'none'});
  xAxes.push({gridIndex: g, type: 'value', min: xTicks.min, max: xTicks.max, show: false});
  yAxes.push({gridIndex: g, type: 'value', min: -1, max: 1, show: false});
  series.push({type: 'custom', name: 'arrows', data: arrowSpans, xAxisIndex: g, yAxisIndex: g, clip: false,
    silent: true, animation: false, encode: {x: [0, 1]},
    renderItem: (p, api) => {
      const a = api.coord([api.value(0), 0]), b = api.coord([api.value(1), 0]);
      const H = 46, W = 15, y = a[1];
      return {type: 'group', children: [
        {type: 'line', shape: {x1: a[0] + H - 4, y1: y, x2: b[0] - H + 4, y2: y}, style: {stroke: '#000', lineWidth: 6}},
        {type: 'polygon', shape: {points: [[a[0], y], [a[0] + H, y - W], [a[0] + H, y + W]]}, style: {fill: '#000'}},
        {type: 'polygon', shape: {points: [[b[0], y], [b[0] - H, y - W], [b[0] - H, y + W]]}, style: {fill: '#000'}}
      ]};
    }});
});

const option = {
  animation: false,
  backgroundColor: '#fff',
  textStyle: {fontFamily: FONT},
  grid: grids, xAxis: xAxes, yAxis: yAxes, series,
  legend: {
    data: legendNames, selectedMode: false, orient: 'horizontal',
    left: 527, top: 180, padding: [16, 78, 16, 23], itemGap: 37,
    itemWidth: 75, itemHeight: 8, icon: 'roundRect',
    borderColor: '#000', borderWidth: 2, backgroundColor: '#fff',
    textStyle: {fontSize: 38, fontFamily: FONT, color: '#000', padding: [0, 0, 0, 27], lineHeight: 40}
  }
};

const chart = echarts.init(document.getElementById('c'), null, {renderer: 'canvas', width: 4016, height: 2322});
chart.setOption(option);

// ---- text annotations placed from the axes' own scales ----
const graphics = [];
const txt = (x, y, text, size, extra) => Object.assign({type: 'text', x, y, silent: true,
  style: {text, font: `${size}px ${FONT}`, fill: '#000', textAlign: 'center', textVerticalAlign: 'middle',
    align: 'center', verticalAlign: 'middle', lineHeight: (extra && extra.lh) || size}}, extra && extra.el);
COLS.forEach((col, c) => {
  const hg = 8 + c;
  const p0 = chart.convertToPixel({xAxisIndex: hg}, arrowSpans[0][0]);
  const p1 = chart.convertToPixel({xAxisIndex: hg}, arrowSpans[0][1]);
  const p2 = chart.convertToPixel({xAxisIndex: hg}, arrowSpans[1][1]);
  graphics.push(txt((p0 + p1) / 2, 65, preLabel, 51, {lh: 53}));
  graphics.push(txt((p1 + p2) / 2, 54, headerLabels[c], 90));
  graphics.push(txt(col.left + col.width / 2, 2273, xTitle, 75));
  ROWS.forEach((row, r) => {
    graphics.push(txt(col.left - 214, row.top + row.height / 2, yTitles[r], 78, {lh: 91, el: {rotation: Math.PI / 2}}));
  });
});
chart.setOption({graphic: {elements: graphics}});
</script></body></html>
